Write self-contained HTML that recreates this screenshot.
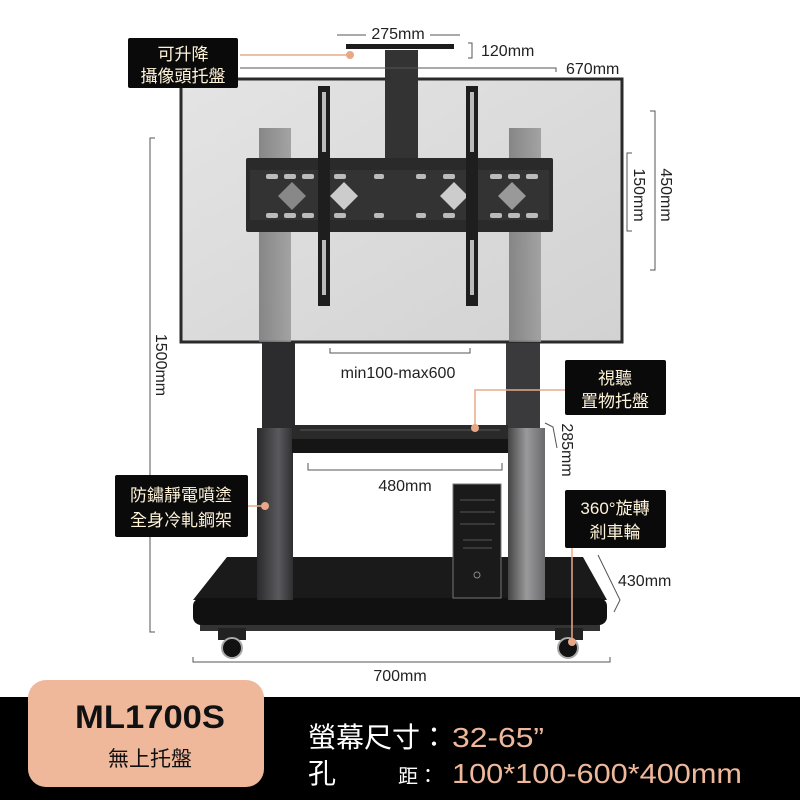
<!DOCTYPE html>
<html><head><meta charset="utf-8"><style>
html,body{margin:0;padding:0;background:#fff}
svg{display:block}
text{font-family:"Liberation Sans","Noto Sans CJK TC",sans-serif}
</style></head><body>
<svg width="800" height="800" viewBox="0 0 800 800" xmlns="http://www.w3.org/2000/svg">
<defs>
<linearGradient id="scr" x1="0" y1="0" x2="1" y2="1"><stop offset="0" stop-color="#e4e4e4"/><stop offset="1" stop-color="#d2d2d2"/></linearGradient>
<linearGradient id="legL" x1="0" x2="1"><stop offset="0" stop-color="#2a2a2c"/><stop offset="0.6" stop-color="#5a5a5e"/><stop offset="1" stop-color="#2e2e30"/></linearGradient>
<linearGradient id="legR" x1="0" x2="1"><stop offset="0" stop-color="#444"/><stop offset="0.5" stop-color="#9a9a9c"/><stop offset="1" stop-color="#6a6a6c"/></linearGradient>
<linearGradient id="up" x1="0" x2="1"><stop offset="0" stop-color="#777"/><stop offset="1" stop-color="#999"/></linearGradient>
</defs>
<rect x="181" y="79" width="441" height="263" fill="url(#scr)" stroke="#2a2a2a" stroke-width="3"/>
<rect x="259" y="128" width="32" height="214" fill="url(#up)" opacity="0.85"/>
<rect x="509" y="128" width="32" height="214" fill="url(#up)" opacity="0.85"/>
<rect x="385" y="50" width="33" height="110" fill="#333"/>
<rect x="346" y="44" width="108" height="5" fill="#1c1c1c"/>
<rect x="246" y="158" width="307" height="74" fill="#2a2a2a" rx="2"/>
<rect x="250" y="170" width="299" height="50" fill="#333"/>
<g fill="#bbb">
<rect x="266" y="174" width="12" height="5" rx="2"/><rect x="284" y="174" width="12" height="5" rx="2"/><rect x="302" y="174" width="12" height="5" rx="2"/><rect x="334" y="174" width="12" height="5" rx="2"/><rect x="374" y="174" width="10" height="5" rx="2"/><rect x="416" y="174" width="10" height="5" rx="2"/><rect x="443" y="174" width="12" height="5" rx="2"/><rect x="490" y="174" width="12" height="5" rx="2"/><rect x="508" y="174" width="12" height="5" rx="2"/><rect x="526" y="174" width="12" height="5" rx="2"/>
<rect x="266" y="213" width="12" height="5" rx="2"/><rect x="284" y="213" width="12" height="5" rx="2"/><rect x="302" y="213" width="12" height="5" rx="2"/><rect x="334" y="213" width="12" height="5" rx="2"/><rect x="374" y="213" width="10" height="5" rx="2"/><rect x="416" y="213" width="10" height="5" rx="2"/><rect x="443" y="213" width="12" height="5" rx="2"/><rect x="490" y="213" width="12" height="5" rx="2"/><rect x="508" y="213" width="12" height="5" rx="2"/><rect x="526" y="213" width="12" height="5" rx="2"/>
<polygon points="278,196 292,182 306,196 292,210" fill="#888"/>
<polygon points="330,196 344,182 358,196 344,210" fill="#ccc"/>
<polygon points="440,196 454,182 468,196 454,210" fill="#ccc"/>
<polygon points="498,196 512,182 526,196 512,210" fill="#999"/>
</g>
<rect x="318" y="86" width="12" height="220" fill="#1e1e1e"/>
<rect x="466" y="86" width="12" height="220" fill="#1e1e1e"/>
<g fill="#bbb">
<rect x="322" y="92" width="4" height="60"/><rect x="470" y="92" width="4" height="60"/>
<rect x="322" y="240" width="4" height="55"/><rect x="470" y="240" width="4" height="55"/>
</g>
<rect x="262" y="343" width="33" height="85" fill="#2c2c2e"/>
<rect x="506" y="343" width="34" height="85" fill="#3a3a3c"/>
<polygon points="227,557 583,557 607,600 193,600" fill="#1a1a1a"/>
<rect x="193" y="598" width="414" height="27" rx="8" fill="#111"/>
<rect x="200" y="625" width="400" height="6" fill="#333"/>
<rect x="257" y="428" width="36" height="172" fill="url(#legL)"/>
<rect x="508" y="428" width="37" height="172" fill="url(#legR)"/>
<rect x="292" y="425" width="216" height="14" fill="#2a2a2a"/>
<rect x="292" y="439" width="216" height="14" fill="#151515"/>
<line x1="300" y1="430" x2="500" y2="430" stroke="#555"/>
<rect x="453" y="484" width="48" height="114" fill="#1a1a1a" stroke="#777"/>
<g stroke="#555"><line x1="460" y1="500" x2="495" y2="500"/><line x1="460" y1="512" x2="495" y2="512"/><line x1="460" y1="524" x2="495" y2="524"/><line x1="463" y1="540" x2="492" y2="540"/><line x1="463" y1="548" x2="492" y2="548"/></g>
<circle cx="477" cy="575" r="3" fill="none" stroke="#888"/>
<rect x="218" y="628" width="28" height="12" fill="#222"/>
<rect x="555" y="628" width="28" height="12" fill="#222"/>
<circle cx="232" cy="648" r="10" fill="#111" stroke="#aaa" stroke-width="2"/>
<circle cx="568" cy="648" r="10" fill="#111" stroke="#aaa" stroke-width="2"/>
<g stroke="#555" stroke-width="1" fill="none">
<path d="M337,35 H366 M430,35 H460"/>
<path d="M468,43 H472 V58 H468"/>
<path d="M240,68 H556 V72"/>
<path d="M155,138 H150 V632 H155"/>
<path d="M650,111 H655 V270 H650"/>
<path d="M632,153 H627 V231 H632"/>
<path d="M330,348 V353 H470 V348"/>
<path d="M308,463 V470 H502 V463"/>
<path d="M545,423 L553,427 L557,448"/>
<path d="M598,555 L620,600 L614,612"/>
<path d="M193,657 V662 H610 V657"/>
</g>
<g fill="#222" font-size="16">
<text x="398" y="39" text-anchor="middle">275mm</text>
<text x="481" y="56">120mm</text>
<text x="566" y="74">670mm</text>
<text x="398" y="378" text-anchor="middle">min100-max600</text>
<text x="405" y="491" text-anchor="middle">480mm</text>
<text x="618" y="586">430mm</text>
<text x="400" y="681" text-anchor="middle">700mm</text>
<text transform="translate(156,365) rotate(90)" text-anchor="middle">1500mm</text>
<text transform="translate(661,195) rotate(90)" text-anchor="middle">450mm</text>
<text transform="translate(634,195) rotate(90)" text-anchor="middle">150mm</text>
<text transform="translate(562,450) rotate(90)" text-anchor="middle">285mm</text>
</g>
<g stroke="#e8a888" stroke-width="1.5" fill="none">
<path d="M240,55 H348"/>
<path d="M565,390 H475 V428"/>
<path d="M248,506 H265"/>
<path d="M572,548 V640"/>
</g>
<g fill="#e8a888">
<circle cx="350" cy="55" r="4"/><circle cx="475" cy="428" r="4"/><circle cx="265" cy="506" r="4"/><circle cx="572" cy="642" r="4"/>
</g>
<g fill="#0a0a0a">
<rect x="128" y="38" width="110" height="50" rx="2"/>
<rect x="565" y="360" width="101" height="55" rx="2"/>
<rect x="115" y="475" width="133" height="62" rx="2"/>
<rect x="565" y="490" width="101" height="58" rx="2"/>
</g>
<g fill="#fff3d8" font-size="17" text-anchor="middle">
<text x="183" y="60">可升降</text><text x="183" y="82">攝像頭托盤</text>
<text x="615" y="384">視聽</text><text x="615" y="407">置物托盤</text>
<text x="181" y="501">防鏽靜電噴塗</text><text x="181" y="526">全身冷軋鋼架</text>
<text x="615" y="514">360°旋轉</text><text x="615" y="538">剎車輪</text>
</g>
<rect x="0" y="697" width="800" height="103" fill="#000"/>
<rect x="28" y="680" width="236" height="107" rx="18" fill="#efb89b"/>
<text x="75" y="728" font-size="32" font-weight="bold" fill="#111" textLength="150" lengthAdjust="spacingAndGlyphs">ML1700S</text>
<text x="150" y="766" text-anchor="middle" font-size="21" fill="#111">無上托盤</text>
<g font-size="28">
<text x="308" y="747" fill="#fff">螢幕尺寸：</text>
<text x="452" y="747" fill="#efb89b" textLength="92" lengthAdjust="spacingAndGlyphs">32-65”</text>
<text x="308" y="783" fill="#fff">孔</text>
<text x="398" y="783" fill="#fff" font-size="20">距：</text>
<text x="452" y="783" fill="#efb89b" textLength="290" lengthAdjust="spacingAndGlyphs">100*100-600*400mm</text>
</g>
</svg>
</body></html>
